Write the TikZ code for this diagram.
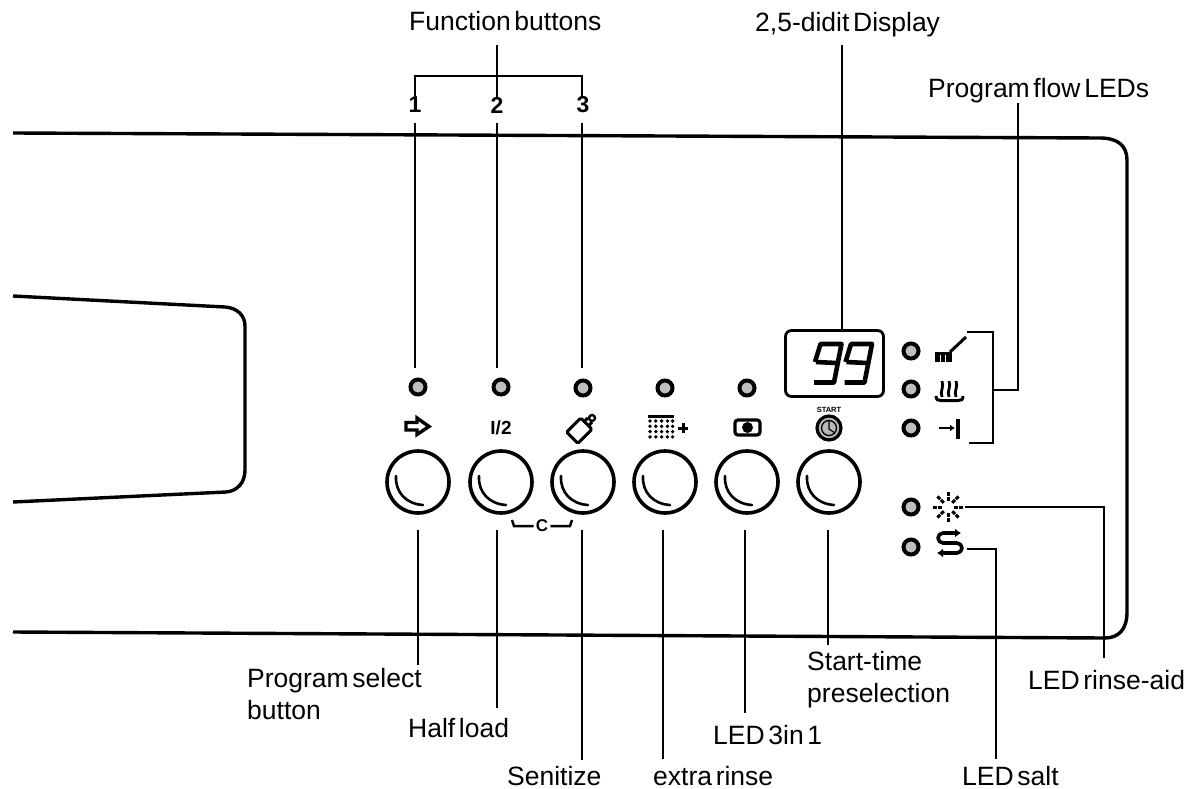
\documentclass[tikz,border=0pt]{standalone}
\usepackage{fontspec}
\setmainfont{Liberation Sans}
\newfontfamily\lblf[WordSpace=0.5]{Liberation Sans}
\usetikzlibrary{arrows.meta}
\tikzset{
 x=1pt,y=-1pt,
 leader/.style={line width=2.5pt},
 panelline/.style={line width=3.4pt,line join=round},
 lbltext/.style={inner sep=0pt,anchor=base west,font={\lblf\fontsize{26.5}{32}\selectfont}},
 lbltwo/.style={inner sep=0pt,anchor=west,align=left,font={\lblf\fontsize{26.5}{32}\selectfont}},
 lednode/.style={circle,draw=black,line width=4pt,fill=gray!50,minimum size=15pt,inner sep=0pt},
 knob/.style={circle,draw=black,line width=3.6pt,fill=white,minimum size=62pt,inner sep=0pt},
 digit/.style={inner sep=0pt,font=\fontsize{23}{24}\selectfont\bfseries},
}
\begin{document}
\begin{tikzpicture}
\useasboundingbox (0,0) rectangle (1185,789);
% panel and handle
\draw[panelline] (13,133) -- (1100,138) .. controls (1118,138) and (1127,146) .. (1127,160) -- (1127,612) .. controls (1127,630) and (1118,638) .. (1105,638) -- (13,632);
\draw[panelline] (13,296) -- (225,307) .. controls (238,308) and (245,316) .. (245,326) -- (245,470) .. controls (245,482) and (238,491) .. (226,492) -- (13,502);
% LEDs
\foreach \n/\x/\y in {a/418/387,b/501/387,c/583/388,d/665/388,e/747/388,f/911/351,g/911/389,h/911/428,i/911/507,j/911/547}
  \node[lednode] (led\n) at (\x,\y) {};
% knobs
\foreach \n/\x in {a/418,b/501,c/583,d/665,e/747,f/829}{
  \node[knob] (knob\n) at (\x,482) {};
  \draw[line width=2.6pt,line cap=round] (\x-22,476) .. controls (\x-23,492) and (\x-12,504) .. (\x+5,505);
}
% function buttons
\node[lbltext] (fb) at (409,31) {Function buttons};
\coordinate (ft) at (497,45);
\coordinate (fj) at (497,76);
\coordinate (fl) at (415,76);
\coordinate (fr) at (582,76);
\node[digit] (d1) at (415,105) {1};
\node[digit] (d2) at (497,105) {2};
\node[digit] (d3) at (583,105) {3};
\draw[leader] (ft) -- (fj);
\draw[leader] (fl |- d1.north) -- (fl) -- (fr) -- (fr |- d3.north);
\draw[leader] (fj) -- (fj |- d2.north);
\draw[leader] (415,123) -- (415,368);
\draw[leader] (497,123) -- (497,368);
\draw[leader] (582,123) -- (582,368);
% display
\node[draw,line width=2.8pt,rounded corners=6pt,minimum width=98pt,minimum height=66pt,inner sep=0pt] (disp) at (834.5,363.5) {};
\node[lbltext] (dl) at (755,32) {2,5-didit Display};
\coordinate (dt) at (842,45);
\draw[leader] (dt) -- (842,330);
\foreach \o in {0,30.5}{
 \draw[line width=4.6pt,line join=miter] (816+\o,362) -- (836+\o,363);
 \draw[line width=4.6pt,line join=round] (815+\o,362) -- (820.5+\o,344) -- (841.5+\o,344) -- (834+\o,382.5) -- (814+\o,382.5);
}
% icons
\draw[line width=3.4pt,line join=miter] (406,422.5) -- (417,422.5) -- (417,418) -- (429,426.5) -- (417,434.5) -- (417,430) -- (406,430) -- cycle;
\node[inner sep=0pt,font=\fontsize{19}{20}\selectfont\bfseries] (half) at (501,428) {I/2};
\begin{scope}[shift={(580,430)},rotate=-45]
 \draw[line width=3pt,rounded corners=1.5pt,fill=white] (-8,-9) rectangle (8,11);
 \draw[line width=3pt] (-3,-10) -- (-3,-14) (3,-10) -- (3,-14);
 \draw[line width=2.4pt] (0,-17) circle (3);
\end{scope}
\foreach \r in {0,1,2,3}\foreach \c in {0,1,2,3,3.9}\fill (650+\c*5.8,421+\r*5.3) circle (1.9);
\draw[line width=2.2pt] (648,416.5) -- (673.5,416.5);
\draw[line width=3pt] (678,428) -- (688,428) (683,423) -- (683,433);
\draw[line width=3.2pt,rounded corners=3pt] (735,420) rectangle (760,435);
\fill (747.5,427.5) circle (5.5);
\node[inner sep=0pt,font=\fontsize{7.5}{8}\selectfont\bfseries] (st) at (829,410) {START};
\node[circle,draw,line width=3.2pt,fill=gray!55,minimum size=24pt,inner sep=0pt] (stb) at (829,428) {};
\node[circle,draw=black,line width=1.3pt,minimum size=15pt,inner sep=0pt] (stc) at (829,428) {};
\draw[line width=1.2pt] (829,421) -- (829,429) -- (835,433);
% right-hand icons
\fill (935,352) rectangle (952,362);
\foreach \x in {940,945}\draw[white,line width=1pt] (\x,355) -- (\x,362);
\draw[line width=3pt] (950,352) -- (966,337);
\foreach \x in {942,949,956}\draw[line width=2.8pt] (\x,381) .. controls (\x+2.5,387) and (\x-2.5,391) .. (\x,397);
\draw[line width=3pt] (936,396) .. controls (936,400) and (938,400.5) .. (941,400.5) -- (958,400.5) .. controls (961,400.5) and (963,400) .. (963,396);
\draw[line width=2.6pt,-{Latex[length=5pt,width=7pt]}] (939,428) -- (955,428);
\draw[line width=3.4pt] (958,419) -- (958,439);
% sun
\coordinate (sun) at (948,507);
\foreach \a in {0,45,...,315}\draw[line width=3pt,dash pattern=on 4pt off 1pt] (sun) ++(\a:6) -- ++(\a:9);
% salt
\draw[line width=3.6pt,line join=round,rounded corners=5pt,{Latex[length=6pt,width=9pt]}-{Latex[length=6pt,width=9pt]}] (937,553) -- (962,553) -- (962,543) -- (938,543) -- (938,533) -- (961,533);
% C bracket
\node[inner sep=0pt,font=\fontsize{17}{17}\selectfont\bfseries] (cc) at (542,526) {C};
\draw[line width=2.5pt] (cc.west) ++(-2,0) -- (514,526) -- (512,520);
\draw[line width=2.5pt] (cc.east) ++(2,0) -- (570,526) -- (572,520);
% program flow bracket
\node[lbltext] (pf) at (928,98) {Program flow LEDs};
\coordinate (bt) at (967,332);
\coordinate (bb) at (969,443);
\coordinate (bm) at (993,390);
\draw[leader] (bt) -- (993,332) -- (993,443) -- (bb);
\draw[leader] (bm) -- (1018,390) -- (1018,103);
% bottom labels
\node[lbltwo] (ps) at (247,694) {Program select\\button};
\node[lbltext] (hl) at (408,737) {Half load};
\node[lbltext] (sn) at (507,785) {Senitize};
\node[lbltext] (er) at (653,785) {extra rinse};
\node[lbltext] (l3) at (713,744) {LED 3in 1};
\node[lbltwo] (sp) at (807,680) {Start-time\\preselection};
\node[lbltext] (lr) at (1028,689) {LED rinse-aid};
\node[lbltext] (ls) at (962,785) {LED salt};
% leaders from buttons
\draw[leader] (418,530) -- (418,665);
\draw[leader] (497,530) -- (497,708);
\draw[leader] (582,530) -- (582,760);
\draw[leader] (663,530) -- (663,759);
\draw[leader] (745,530) -- (745,713);
\draw[leader] (828,530) -- (828,645);
\draw[leader] (965,507) -- (1104,507) -- (1104,658);
\draw[leader] (967,549) -- (996,549) -- (996,759);
\end{tikzpicture}
\end{document}
